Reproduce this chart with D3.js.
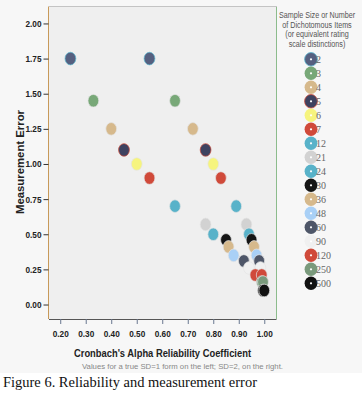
<!DOCTYPE html>
<html>
<head>
<meta charset="utf-8">
<script src="https://cdn.jsdelivr.net/npm/d3@7"></script>
<style>
  body { margin: 0; background: #fff; }
  svg text { font-family: "Liberation Sans", Arial, sans-serif; }
</style>
</head>
<body>
<div id="chart"></div>
<script>
// sample sizes / number of dichotomous items
let sizes = ["2", "3", "4", "5", "6", "7", "12", "21", "24", "30", "36", "48", "60", "90", "120", "250", "500"];
// reliability for true SD=1 (left) and SD=2 (right)
let alphaSD1 = [0.24, 0.33, 0.40, 0.45, 0.50, 0.55, 0.65, 0.77, 0.80, 0.85, 0.86, 0.88, 0.92, 0.94, 0.965, 0.99, 0.995];
let alphaSD2 = [0.55, 0.65, 0.72, 0.77, 0.80, 0.83, 0.89, 0.93, 0.94, 0.95, 0.96, 0.97, 0.98, 0.985, 0.99, 0.995, 1.00];
let errors = [1.75, 1.45, 1.25, 1.10, 1.00, 0.90, 0.70, 0.57, 0.50, 0.46, 0.41, 0.35, 0.31, 0.26, 0.21, 0.16, 0.10];
let xTicks = [0.2, 0.3, 0.4, 0.5, 0.6, 0.7, 0.8, 0.9, 1.0];
let yTicks = [0, 0.25, 0.5, 0.75, 1.0, 1.25, 1.5, 1.75, 2.0];
let legendTitle = ["Sample Size or Number", "of Dichotomous Items", "(or equivalent rating", "scale distinctions)"];

let palette = ["#566080", "#78a878", "#d6b98c", "#3e4260", "#f6f47e", "#d04a3a", "#58b2c9", "#d2d2d2",
               "#58b2c9", "#151515", "#d6b98c", "#a9d0f6", "#4e5668", "#f0f0f0", "#d04a3a", "#7a9a7c", "#111111"];
let color = d3.scaleOrdinal().domain(sizes).range(palette);
// a few markers carry a coloured rim
let rim = d => d === "5" ? "#d04a3a" : d === "2" ? "#5ab8d0" : "#e4e4e4";

let width = 362, height = 404;
let svg = d3.select("#chart").append("svg")
    .attr("width", width)
    .attr("height", height);

svg.append("rect").attr("width", width).attr("height", 373).attr("fill", "#f7f7f7");

let x = d3.scaleLinear().domain([0.156, 1.046]).range([49, 276]);
let y = d3.scaleLinear().domain([-0.103, 2.117]).range([319, 7]);

// plot area
svg.append("rect")
    .attr("x", 49).attr("y", 7)
    .attr("width", 227).attr("height", 312)
    .attr("fill", "#efefef");
svg.append("line").attr("x1", 49).attr("x2", 277).attr("y1", 6.5).attr("y2", 6.5).attr("stroke", "#c4c4c4");
svg.append("line").attr("x1", 276.5).attr("x2", 276.5).attr("y1", 7).attr("y2", 319).attr("stroke", "#8cbc8c");

let xAxis = svg.append("g")
    .attr("transform", "translate(0,319)")
    .call(d3.axisBottom(x).tickValues(xTicks).tickFormat(d3.format(".2f")).tickSize(5).tickPadding(7));
xAxis.select(".domain").attr("stroke", "#555").attr("d", "M49,0.5H276.5");
xAxis.selectAll(".tick line").attr("stroke", "#6a7890");
xAxis.selectAll(".tick text")
    .attr("fill", "#222")
    .style("font-size", "9px")
    .style("font-weight", "bold")
    .attr("textLength", 16)
    .attr("lengthAdjust", "spacingAndGlyphs");

let yAxis = svg.append("g")
    .attr("transform", "translate(48.5,0)")
    .call(d3.axisLeft(y).tickValues(yTicks).tickFormat(d3.format(".2f")).tickSize(5).tickPadding(2));
yAxis.select(".domain").attr("stroke", "#c89a5a").attr("d", "M0,6.5V319");
yAxis.selectAll(".tick line").attr("stroke", "#333");
yAxis.selectAll(".tick text")
    .attr("fill", "#222")
    .style("font-size", "9px")
    .style("font-weight", "bold")
    .attr("textLength", 16)
    .attr("lengthAdjust", "spacingAndGlyphs");

// points
let points = [];
sizes.forEach((s, i) => {
    points.push({size: s, alpha: alphaSD1[i], err: errors[i]});
    points.push({size: s, alpha: alphaSD2[i], err: errors[i]});
});

svg.append("g").selectAll("ellipse")
    .data(points)
    .enter().append("ellipse")
    .attr("cx", d => x(d.alpha))
    .attr("cy", d => y(d.err))
    .attr("rx", 5.4)
    .attr("ry", 6.3)
    .attr("fill", d => color(d.size))
    .attr("stroke", d => rim(d.size))
    .attr("stroke-width", 0.7);

// axis titles
svg.append("text")
    .attr("transform", "translate(24,162) rotate(-90)")
    .attr("text-anchor", "middle")
    .style("font-size", "11px")
    .style("font-weight", "bold")
    .attr("fill", "#222")
    .attr("textLength", 104)
    .attr("lengthAdjust", "spacingAndGlyphs")
    .text("Measurement Error");

svg.append("text")
    .attr("x", 162.5).attr("y", 357)
    .attr("text-anchor", "middle")
    .style("font-size", "11px")
    .style("font-weight", "bold")
    .attr("fill", "#222")
    .attr("textLength", 177)
    .attr("lengthAdjust", "spacingAndGlyphs")
    .text("Cronbach's Alpha Reliability Coefficient");

svg.append("text")
    .attr("x", 182.5).attr("y", 369)
    .attr("text-anchor", "middle")
    .style("font-size", "7.5px")
    .attr("fill", "#888")
    .attr("textLength", 201)
    .attr("lengthAdjust", "spacingAndGlyphs")
    .text("Values for a true SD=1 form on the left; SD=2, on the right.");

// legend title, squeezed horizontally like the narrow original font
svg.append("g").selectAll("text")
    .data(legendTitle)
    .enter().append("text")
    .attr("transform", (d, i) => "translate(317," + (18 + i * 9.7) + ") scale(0.8,1)")
    .attr("text-anchor", "middle")
    .style("font-size", "9px")
    .attr("fill", "#555")
    .text(d => d);

let legendG = svg.selectAll(".legend")
    .data(sizes)
    .enter().append("g")
    .attr("class", "legend")
    .attr("transform", (d, i) => "translate(311," + (59.3 + i * 14) + ")");

legendG.append("ellipse")
    .attr("rx", 6.4)
    .attr("ry", 6.8)
    .attr("fill", d => color(d))
    .attr("stroke", d => rim(d) === "#e4e4e4" ? "none" : rim(d))
    .attr("stroke-width", 0.8);

legendG.append("circle")
    .attr("r", 1.1)
    .attr("fill", "#fff");

legendG.append("text")
    .attr("x", 5)
    .attr("y", 3.5)
    .style("font-family", "'Liberation Serif', 'Times New Roman', serif")
    .style("font-size", "10px")
    .attr("fill", "#666")
    .text(d => d);

// caption
svg.append("text")
    .attr("x", 3).attr("y", 387)
    .style("font-family", "'Liberation Serif', 'Times New Roman', serif")
    .style("font-size", "15px")
    .attr("fill", "#111")
    .attr("textLength", 254)
    .attr("lengthAdjust", "spacingAndGlyphs")
    .text("Figure 6. Reliability and measurement error");
</script>
</body>
</html>
